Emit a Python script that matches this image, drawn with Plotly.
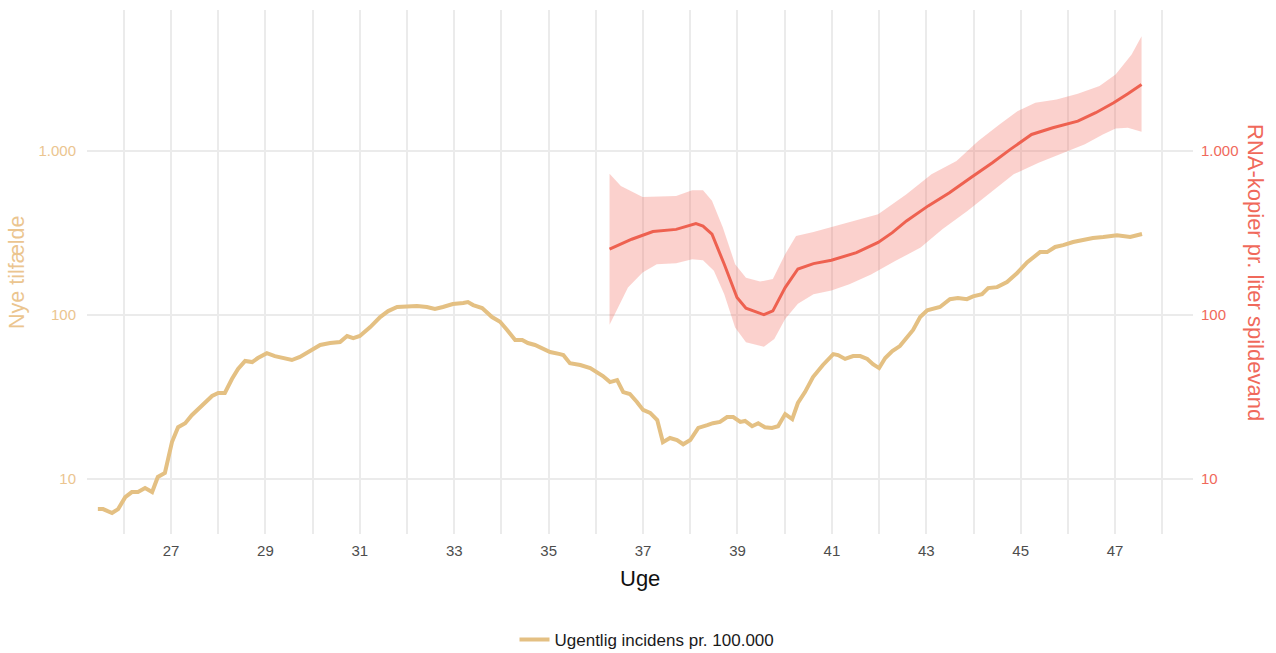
import plotly.graph_objects as go

# Weekly incidence per 100.000 (tan line)
inc_week = [25.45, 25.56, 25.75, 25.88, 26.03, 26.17, 26.30, 26.45, 26.60, 26.72, 26.87,
            27.02, 27.15, 27.30, 27.44, 27.57, 27.72, 27.87, 28.00, 28.14, 28.29, 28.42,
            28.57, 28.72, 28.84, 29.03, 29.20, 29.37, 29.56, 29.73, 29.90, 30.16, 30.37,
            30.58, 30.73, 30.86, 31.00, 31.22, 31.43, 31.60, 31.79, 32.00, 32.21, 32.42,
            32.59, 32.76, 32.97, 33.19, 33.29, 33.40, 33.59, 33.80, 33.97, 34.12, 34.29,
            34.44, 34.56, 34.71, 34.88, 35.03, 35.24, 35.31, 35.45, 35.67, 35.88, 36.03,
            36.15, 36.30, 36.45, 36.58, 36.72, 36.87, 37.00, 37.15, 37.30, 37.42, 37.57,
            37.72, 37.85, 38.00, 38.17, 38.36, 38.48, 38.63, 38.78, 38.91, 39.06, 39.16,
            39.31, 39.44, 39.58, 39.73, 39.86, 40.01, 40.16, 40.28, 40.43, 40.60, 40.81,
            41.03, 41.13, 41.28, 41.45, 41.60, 41.75, 41.87, 42.00, 42.13, 42.28, 42.44,
            42.59, 42.72, 42.87, 43.02, 43.29, 43.50, 43.67, 43.86, 43.99, 44.18, 44.31,
            44.50, 44.71, 44.92, 45.14, 45.41, 45.56, 45.73, 45.90, 46.11, 46.32, 46.53,
            46.75, 47.04, 47.32, 47.57]
inc_value = [6.56, 6.56, 6.21, 6.56, 7.76, 8.33, 8.33, 8.81, 8.33, 10.3, 10.9,
             16.8, 20.7, 21.9, 24.5, 26.7, 29.1, 32.1, 33.5, 33.5, 40.7, 46.9,
             52.5, 51.7, 54.7, 58.6, 56.2, 54.7, 53.2, 55.5, 59.5, 65.7, 67.5,
             68.5, 74.5, 72.4, 74.5, 84.5, 97.2, 105.7, 112, 113.5, 113.5, 112,
             108.9, 112, 116.7, 118.4, 120, 115, 110.4, 97.2, 91, 81.1, 70.4,
             70.4, 67.5, 65.7, 62.1, 59.5, 57.8, 57.0, 50.9, 49.6, 47.5, 44.9,
             42.5, 39.0, 40.1, 33.9, 33.0, 29.5, 26.4, 25.3, 22.9, 16.8, 17.8,
             17.3, 16.3, 17.3, 20.5, 21.3, 21.9, 22.3, 23.9, 23.9, 22.3, 22.6,
             21.0, 21.9, 20.7, 20.5, 21.0, 24.9, 23.2, 29.1, 33.9, 41.9, 49.6,
             57.8, 57.0, 54.0, 56.2, 56.2, 54.0, 50.2, 47.5, 54.7, 60.3, 64.7,
             73.5, 81.1, 97.2, 107, 112, 125, 127, 125, 130, 134, 146,
             148, 159, 180, 210, 242, 242, 260, 267, 279, 287, 295,
             299, 307, 299, 312]

# RNA copies per liter wastewater (smoothed, red line)
rna_week = [36.29, 36.76, 37.21, 37.70, 38.12, 38.27, 38.46, 38.72, 38.99, 39.18, 39.56,
            39.75, 40.01, 40.28, 40.61, 40.99, 41.52, 41.98, 42.28, 42.58, 43.04, 43.49,
            43.94, 44.40, 44.78, 45.23, 45.68, 46.21, 46.59, 46.97, 47.27, 47.56]
rna_value = [252, 290, 323, 333, 361, 349, 311, 204, 128, 110, 100.5,
             106, 147, 191, 206, 216, 240, 277, 318, 375, 463, 557,
             688, 849, 1024, 1262, 1387, 1521, 1713, 1968, 2233, 2543]

# Confidence band (upper / lower)
upper_week = [36.29, 36.53, 36.99, 37.70, 38.04, 38.27, 38.46, 38.69, 38.95, 39.18, 39.48,
              39.75, 40.01, 40.24, 40.61, 41.07, 41.52, 41.98, 42.58, 43.11, 43.64, 44.10,
              44.55, 44.93, 45.31, 45.76, 46.21, 46.67, 47.01, 47.35, 47.56]
upper_value = [728, 612, 525, 532, 576, 576, 497, 342, 204, 169, 160,
               166, 235, 303, 321, 349, 375, 412, 545, 721, 869, 1151,
               1453, 1751, 1968, 2065, 2233, 2489, 2926, 3874, 5012]
lower_week = [36.29, 36.68, 36.99, 37.29, 37.70, 38.04, 38.27, 38.50, 38.72, 38.95, 39.18,
              39.56, 39.78, 40.01, 40.28, 40.61, 40.99, 41.37, 41.83, 42.35, 42.88, 43.34,
              43.87, 44.40, 44.85, 45.38, 45.91, 46.36, 46.74, 47.01, 47.27, 47.56]
lower_value = [87.3, 147, 182, 204, 207, 219, 216, 186, 134, 84.1, 68.2,
               64.1, 71.4, 94.6, 117, 134, 141, 154, 177, 214, 258, 333,
               431, 571, 721, 849, 977, 1099, 1262, 1374, 1387, 1312]

x_ticks = [27, 29, 31, 33, 35, 37, 39, 41, 43, 45, 47]
y_ticks = [10, 100, 1000]
y_ticktext = ["10", "100", "1.000"]

TAN = "#E4C083"
TAN_TXT = "#EBC58F"
RED = "#EE6150"
RED_TXT = "#F0695B"
GRID = "#EBEBEB"
FONT = "Liberation Sans, Arial, sans-serif"

yrange = [0.665, 3.860]

fig = go.Figure()

fig.add_trace(go.Scatter(
    x=upper_week + lower_week[::-1],
    y=upper_value + lower_value[::-1],
    fill="toself", fillcolor="rgba(241,103,91,0.30)",
    line=dict(width=0), mode="lines", hoverinfo="skip",
    showlegend=False, yaxis="y2"))

fig.add_trace(go.Scatter(
    x=rna_week, y=rna_value, mode="lines",
    line=dict(color=RED, width=3), showlegend=False, yaxis="y2"))

fig.add_trace(go.Scatter(
    x=inc_week, y=inc_value, mode="lines",
    line=dict(color=TAN, width=4),
    name="Ugentlig incidens pr. 100.000"))

fig.update_layout(
    width=1276, height=653,
    margin=dict(l=87, r=83, t=10, b=119, autoexpand=False),
    paper_bgcolor="white", plot_bgcolor="white",
    font=dict(family=FONT, size=15, color="#4D4D4D"),
    xaxis=dict(
        range=[25.22, 48.65], tickvals=x_ticks, showgrid=True,
        gridcolor=GRID, gridwidth=1.7, zeroline=False, showline=False,
        ticks="", ticklabelstandoff=6, automargin=False,
        tickfont=dict(size=15, color="#4D4D4D"),
        minor=dict(tick0=26, dtick=2, showgrid=True, gridcolor=GRID, gridwidth=1.5),
    ),
    yaxis=dict(
        type="log", range=yrange, tickvals=y_ticks, ticktext=y_ticktext,
        showgrid=True, gridcolor=GRID, gridwidth=1.6, zeroline=False,
        ticks="", ticklabelstandoff=10, automargin=False,
        tickfont=dict(size=15, color=TAN_TXT),
    ),
    yaxis2=dict(
        type="log", range=yrange, tickvals=y_ticks, ticktext=y_ticktext,
        overlaying="y", side="right", showgrid=False, zeroline=False,
        ticks="", ticklabelstandoff=7, automargin=False,
        tickfont=dict(size=15, color=RED_TXT),
    ),
    legend=dict(
        orientation="h", x=0.5 + 7 / 1106, xanchor="center", y=-0.202, yanchor="middle",
        font=dict(size=17, color="#1A1A1A"), bgcolor="rgba(0,0,0,0)",
    ),
    annotations=[
        dict(text="Nye tilfælde", xref="paper", yref="paper", x=-70 / 1106, y=0.5,
             textangle=-90, showarrow=False, xanchor="center", yanchor="middle",
             font=dict(size=21.5, color=TAN_TXT, family=FONT)),
        dict(text="RNA-kopier pr. liter spildevand", xref="paper", yref="paper",
             x=1.0 + 63 / 1106, y=0.5, textangle=90, showarrow=False,
             xanchor="center", yanchor="middle",
             font=dict(size=22, color=RED_TXT, family=FONT)),
        dict(text="Uge", xref="paper", yref="paper", x=0.5, y=-44 / 524,
             showarrow=False, xanchor="center", yanchor="middle",
             font=dict(size=22, color="#111111", family=FONT)),
    ],
)

fig.write_html("out.html", config={"displayModeBar": False},
               post_script="document.body.style.margin='0';")
